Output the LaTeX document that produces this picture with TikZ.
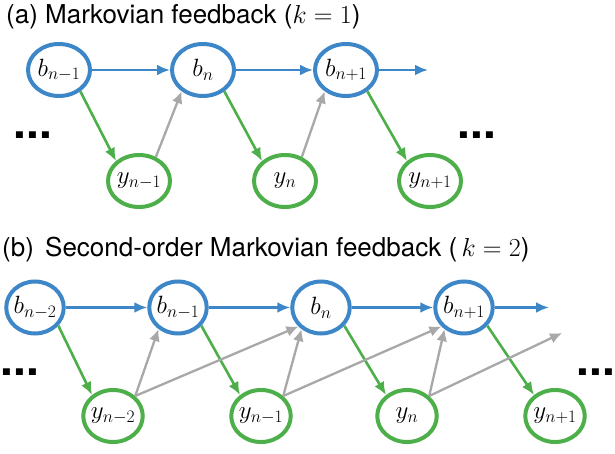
\RequirePackage{fix-cm}
\documentclass[tikz,border=0pt]{standalone}
\usepackage[no-math]{fontspec}
\setmainfont{TeX Gyre Heros}
\usetikzlibrary{arrows.meta,shapes.geometric}
\definecolor{bblue}{RGB}{61,135,200}
\definecolor{ygreen}{RGB}{77,175,74}
\definecolor{fbgray}{RGB}{168,168,168}
\tikzset{ 
   bnode/.style = {ellipse,draw=bblue,line width=4pt,inner xsep=-8pt,inner ysep=0pt,font=\fontsize{25}{30}\selectfont},
   ynode/.style = {ellipse,draw=ygreen,line width=4pt,inner xsep=-8pt,inner ysep=0pt,font=\fontsize{25}{30}\selectfont},
   barrow/.style = {-{Latex[length=13pt,width=11pt]},line width=2.8pt,draw=bblue},  
   garrow/.style = {-{Latex[length=13pt,width=11pt]},line width=2.6pt,draw=ygreen},  
   farrow/.style = {-{Latex[length=12pt,width=11pt]},line width=2.3pt,draw=fbgray},  
   dots/.style = {inner sep=0pt,font=\fontsize{46}{46}\selectfont\bfseries},
   title/.style = {anchor=base west,inner sep=0pt,font=\fontsize{26}{30}\selectfont},
}

\begin{document}
\begin{tikzpicture}[x=1pt,y=-1pt] 
      \useasboundingbox (0,0) rectangle (615,454);

      % (a) first order
      \node[title] (ta) at (6,24) {(a) Markovian feedback ($k=1$)};

      \node[bnode,minimum width=62pt,minimum height=52pt] (ab1) at (59,70)  {$b_{n-1}$};
      \node[bnode,minimum width=62pt,minimum height=52pt] (ab2) at (203,70) {$b_{n}$};
      \node[bnode,minimum width=62pt,minimum height=52pt] (ab3) at (346,70) {$b_{n+1}$};
      \node[ynode,minimum width=62pt,minimum height=52pt] (ay1) at (139,181) {$y_{n-1}$};
      \node[ynode,minimum width=62pt,minimum height=52pt] (ay2) at (285,181) {$y_{n}$};
      \node[ynode,minimum width=62pt,minimum height=52pt] (ay3) at (430,181) {$y_{n+1}$};
      \coordinate (aend) at (428,70);

      \node[dots] (adl) at (33,135)  {...};
      \node[dots] (adr) at (477,135) {...};

      \draw[barrow] (ab1.east) -- (ab2.west);
      \draw[barrow] (ab2.east) -- (ab3.west);
      \draw[barrow] (ab3.east) -- (aend);
      \draw[garrow] (ab1.-45)  -- (ay1.139);
      \draw[garrow] (ab2.-45)  -- (ay2.139);
      \draw[garrow] (ab3.-45)  -- (ay3.139);
      \draw[farrow] (ay1.55)   -- (ab2.-135);
      \draw[farrow] (ay2.55)   -- (ab3.-135);

      % (b) second order
      \node[title] (tb) at (2,256) {(b)\hspace{4pt} Second-order Markovian feedback (\,$k=2$)};

      \node[bnode,minimum width=57.5pt,minimum height=52pt] (bb1) at (35,307.5)  {$b_{n-2}$};
      \node[bnode,minimum width=57.5pt,minimum height=52pt] (bb2) at (178,307.5) {$b_{n-1}$};
      \node[bnode,minimum width=57.5pt,minimum height=52pt] (bb3) at (321,307.5) {$b_{n}$};
      \node[bnode,minimum width=57.5pt,minimum height=52pt] (bb4) at (464,307.5) {$b_{n+1}$};
      \node[ynode,minimum width=59.5pt,minimum height=52pt] (by1) at (113,416) {$y_{n-2}$};
      \node[ynode,minimum width=59.5pt,minimum height=52pt] (by2) at (261,416) {$y_{n-1}$};
      \node[ynode,minimum width=59.5pt,minimum height=52pt] (by3) at (407,416) {$y_{n}$};
      \node[ynode,minimum width=59.5pt,minimum height=52pt] (by4) at (555,416) {$y_{n+1}$};
      \coordinate (bend) at (549,307.5);
      \coordinate (fend) at (562,333);

      \node[dots] (bdl) at (20,372.5) {...};
      \node[dots] (bdr) at (596,372.5) {...};

      \draw[barrow] (bb1.east) -- (bb2.west);
      \draw[barrow] (bb2.east) -- (bb3.west);
      \draw[barrow] (bb3.east) -- (bb4.west);
      \draw[barrow] (bb4.east) -- (bend);
      \draw[garrow] (bb1.-38)  -- (by1.135);
      \draw[garrow] (bb2.-38)  -- (by2.135);
      \draw[garrow] (bb3.-38)  -- (by3.135);
      \draw[garrow] (bb4.-38)  -- (by4.135);
      \draw[farrow] (by1.42)   -- (bb2.-132);
      \draw[farrow] (by1.42)   -- (bb3.-140);
      \draw[farrow] (by2.42)   -- (bb3.-132);
      \draw[farrow] (by2.42)   -- (bb4.-140);
      \draw[farrow] (by3.42)   -- (bb4.-132);
      \draw[farrow] (by3.42)   -- (fend);

   \end{tikzpicture}
\end{document}
